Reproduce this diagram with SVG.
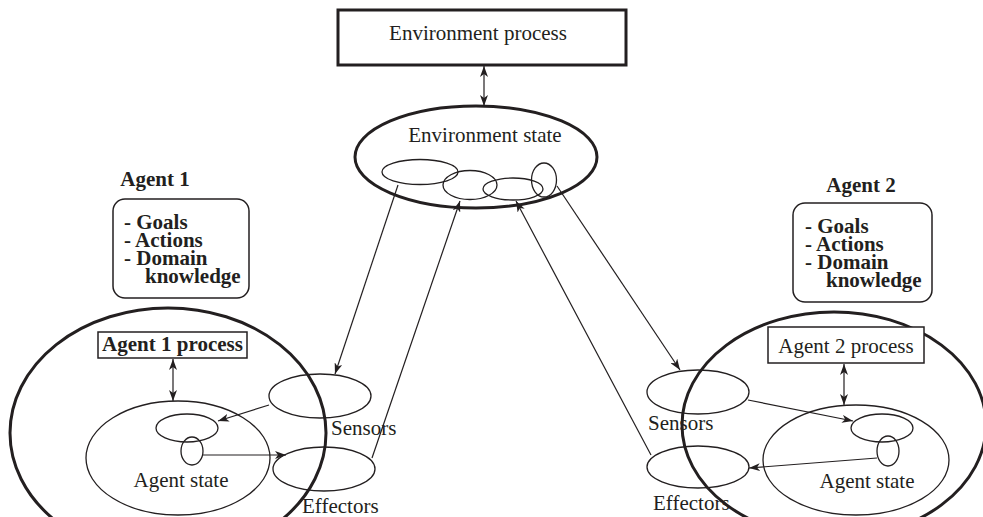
<svg xmlns="http://www.w3.org/2000/svg" width="983" height="517" viewBox="0 0 983 517">
<style>
text{font-family:"Liberation Serif","Times New Roman",serif;font-size:21px;fill:#231f20}
.b{font-weight:bold}
.thick{fill:none;stroke:#231f20;stroke-width:3}
.thin{fill:none;stroke:#231f20;stroke-width:1.3}
.box{fill:#fff;stroke:#231f20;stroke-width:1.5}
.conn line{stroke:#231f20;stroke-width:1.2;fill:none}
</style>
<defs>
<marker id="ah" markerUnits="userSpaceOnUse" markerWidth="12" markerHeight="8" refX="11" refY="4" orient="auto-start-reverse">
<path d="M0,0 L11,4 L0,8 L3,4 Z" fill="#231f20"/>
</marker>
</defs>
<g id="env-process">
<rect x="338" y="10" width="288" height="55" fill="#fff" stroke="#231f20" stroke-width="3"/>
<text x="478" y="40" text-anchor="middle">Environment process</text>
</g>
<g id="env-state">
<ellipse class="thick" cx="476" cy="157" rx="121" ry="51"/>
<text x="485" y="142" text-anchor="middle">Environment state</text>
<ellipse class="thin" cx="420" cy="172" rx="38" ry="12.5"/>
<ellipse class="thin" cx="470" cy="185" rx="27" ry="14.5"/>
<ellipse class="thin" cx="513" cy="189" rx="30" ry="11"/>
<ellipse class="thin" cx="544" cy="180" rx="12.5" ry="17"/>
</g>
<g id="agent1-label"><text class="b" x="155" y="186" text-anchor="middle">Agent 1</text></g>
<g id="agent1-knowledge">
<rect class="box" x="113" y="199" width="136" height="99" rx="12"/>
<text class="b"><tspan x="124" y="229">- Goals</tspan><tspan x="124" y="247">- Actions</tspan><tspan x="124" y="265">- Domain</tspan><tspan x="145" y="283">knowledge</tspan></text>
</g>
<g id="agent1"><ellipse class="thick" cx="168" cy="433" rx="158" ry="125"/></g>
<g id="agent1-process">
<rect class="box" x="98" y="332" width="149" height="26"/>
<text class="b" x="172.5" y="351" text-anchor="middle">Agent 1 process</text>
</g>
<g id="agent1-state">
<ellipse class="thin" cx="178" cy="458" rx="92" ry="57"/>
<ellipse class="thin" cx="187" cy="428" rx="31" ry="14"/>
<ellipse class="thin" cx="192" cy="451" rx="11" ry="14"/>
<text x="181" y="487" text-anchor="middle">Agent state</text>
</g>
<g id="agent1-sensors">
<ellipse class="thin" cx="320" cy="396" rx="51" ry="22"/>
<text x="331" y="435">Sensors</text>
</g>
<g id="agent1-effectors">
<ellipse class="thin" cx="324" cy="469" rx="51" ry="22"/>
<text x="302" y="513">Effectors</text>
</g>
<g id="agent2-label"><text class="b" x="861" y="192" text-anchor="middle">Agent 2</text></g>
<g id="agent2-knowledge">
<rect class="box" x="793" y="203" width="139" height="99" rx="12"/>
<text class="b"><tspan x="805" y="233">- Goals</tspan><tspan x="805" y="251">- Actions</tspan><tspan x="805" y="269">- Domain</tspan><tspan x="826" y="287">knowledge</tspan></text>
</g>
<g id="agent2"><ellipse class="thick" cx="834" cy="425" rx="152" ry="113"/></g>
<g id="agent2-process">
<rect class="box" x="768" y="327" width="156" height="36"/>
<text x="846" y="353" text-anchor="middle">Agent 2 process</text>
</g>
<g id="agent2-state">
<ellipse class="thin" cx="856" cy="460" rx="93" ry="55"/>
<ellipse class="thin" cx="882" cy="428" rx="31" ry="14"/>
<ellipse class="thin" cx="888" cy="451" rx="11" ry="15"/>
<text x="867" y="488" text-anchor="middle">Agent state</text>
</g>
<g id="agent2-sensors">
<ellipse class="thin" cx="698" cy="392" rx="51" ry="22"/>
<text x="648" y="430">Sensors</text>
</g>
<g id="agent2-effectors">
<ellipse class="thin" cx="698" cy="467" rx="51" ry="21"/>
<text x="653" y="510">Effectors</text>
</g>
<g id="connectors" class="conn">
<line x1="484" y1="66" x2="484" y2="106" marker-start="url(#ah)" marker-end="url(#ah)"/>
<line x1="173" y1="359" x2="173" y2="401" marker-start="url(#ah)" marker-end="url(#ah)"/>
<line x1="844" y1="364" x2="844" y2="405" marker-start="url(#ah)" marker-end="url(#ah)"/>
<line x1="398" y1="185" x2="335" y2="374" marker-end="url(#ah)"/>
<line x1="372" y1="458" x2="460" y2="201" marker-end="url(#ah)"/>
<line x1="557" y1="186" x2="680" y2="370" marker-end="url(#ah)"/>
<line x1="651" y1="455" x2="516" y2="201" marker-end="url(#ah)"/>
<line x1="269" y1="405" x2="218" y2="421" marker-end="url(#ah)"/>
<line x1="203" y1="455" x2="286" y2="455" marker-end="url(#ah)"/>
<line x1="748" y1="400" x2="853" y2="421" marker-end="url(#ah)"/>
<line x1="877" y1="458" x2="749" y2="468" marker-end="url(#ah)"/>
</g>
</svg>
